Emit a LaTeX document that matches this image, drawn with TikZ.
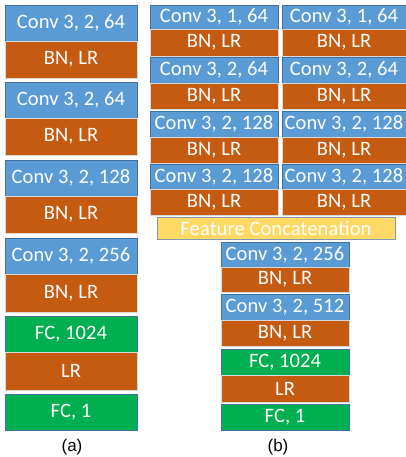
\documentclass[tikz,border=0pt]{standalone}
\usepackage{fontspec}
\setmainfont{Carlito}[LetterSpace=0.5]
\newfontfamily\capfont{Liberation Sans}
\definecolor{convblue}{HTML}{5B9BD5}
\definecolor{bnorange}{HTML}{C55A11}
\definecolor{fcgreen}{HTML}{00B050}
\definecolor{catyellow}{HTML}{FFD966}
\definecolor{edgeblue}{HTML}{41719C}
\definecolor{edgegray}{HTML}{8497B0}
\tikzset{
  blk/.style={anchor=north west, inner sep=0pt, outer sep=0pt, text=white,
    font=\fontsize{20.5}{22}\selectfont},
  conv/.style={blk, fill=convblue, draw=edgeblue, line width=0.7pt},
  bn/.style={blk, fill=bnorange, draw=white!85!black, line width=0.5pt},
  fc/.style={blk, fill=fcgreen, draw=edgeblue, line width=0.7pt},
  cat/.style={blk, fill=catyellow, draw=edgegray, line width=0.8pt},
  lbl/.style={font=\capfont\fontsize{17}{19}\selectfont, text=black},
}
% box: name, style, x0, y0, x1, y1, text
\newcommand{\blkbox}[7]{%
  \pgfmathsetmacro{\bw}{#5-#3}\pgfmathsetmacro{\bh}{#6-#4}%
  \node[#2, minimum width=\bw pt, minimum height=\bh pt] (#1) at (#3,#4) {#7};}
\begin{document}
\begin{tikzpicture}[x=1pt,y=-1pt]
\useasboundingbox (0,0) rectangle (406,457);
% (a) plain discriminator
\blkbox{ca1}{conv}{5}{5}{137}{41}{Conv 3, 2, 64}
\blkbox{ba1}{bn}{5}{41}{137}{78}{BN, LR}
\blkbox{ca2}{conv}{5}{82}{137}{118}{Conv 3, 2, 64}
\blkbox{ba2}{bn}{5}{118}{137}{155}{BN, LR}
\blkbox{ca3}{conv}{5}{160}{137}{196}{Conv 3, 2, 128}
\blkbox{ba3}{bn}{5}{196}{137}{233}{BN, LR}
\blkbox{ca4}{conv}{5}{238}{137}{274}{Conv 3, 2, 256}
\blkbox{ba4}{bn}{5}{274}{137}{312}{BN, LR}
\blkbox{fa1}{fc}{5}{316}{137}{352}{FC, 1024}
\blkbox{la}{bn}{5}{352}{137}{390}{LR}
\blkbox{fa2}{fc}{5}{394}{137}{430}{FC, 1}
\node[lbl] (capa) at (72,447) {(a)};
% (b) two branches
\blkbox{cl1}{conv}{150}{5}{278}{29}{Conv 3, 1, 64}
\blkbox{bl1}{bn}{150}{29}{278}{56}{BN, LR}
\blkbox{cl2}{conv}{150}{57}{278}{83}{Conv 3, 2, 64}
\blkbox{bl2}{bn}{150}{83}{278}{109}{BN, LR}
\blkbox{cl3}{conv}{150}{111}{278}{137}{Conv 3, 2, 128}
\blkbox{bl3}{bn}{150}{137}{278}{163}{BN, LR}
\blkbox{cl4}{conv}{150}{164}{278}{189}{Conv 3, 2, 128}
\blkbox{bl4}{bn}{150}{189}{278}{215}{BN, LR}
\blkbox{cr1}{conv}{282}{5}{406}{29}{Conv 3, 1, 64}
\blkbox{br1}{bn}{282}{29}{406}{56}{BN, LR}
\blkbox{cr2}{conv}{282}{57}{406}{83}{Conv 3, 2, 64}
\blkbox{br2}{bn}{282}{83}{406}{109}{BN, LR}
\blkbox{cr3}{conv}{282}{111}{406}{137}{Conv 3, 2, 128}
\blkbox{br3}{bn}{282}{137}{406}{163}{BN, LR}
\blkbox{cr4}{conv}{282}{164}{406}{189}{Conv 3, 2, 128}
\blkbox{br4}{bn}{282}{189}{406}{215}{BN, LR}
\blkbox{fcat}{cat}{157}{217}{395}{239}{Feature Concatenation}
% (b) shared trunk
\blkbox{cb1}{conv}{221}{242}{349}{267}{Conv 3, 2, 256}
\blkbox{bb1}{bn}{221}{267}{349}{292}{BN, LR}
\blkbox{cb2}{conv}{221}{294}{349}{320}{Conv 3, 2, 512}
\blkbox{bb2}{bn}{221}{320}{349}{346}{BN, LR}
\blkbox{fb1}{fc}{221}{349}{349}{375}{FC, 1024}
\blkbox{lb}{bn}{221}{375}{349}{402}{LR}
\blkbox{fb2}{fc}{221}{404}{349}{430}{FC, 1}
\node[lbl] (capb) at (278,447) {(b)};
\end{tikzpicture}
\end{document}
